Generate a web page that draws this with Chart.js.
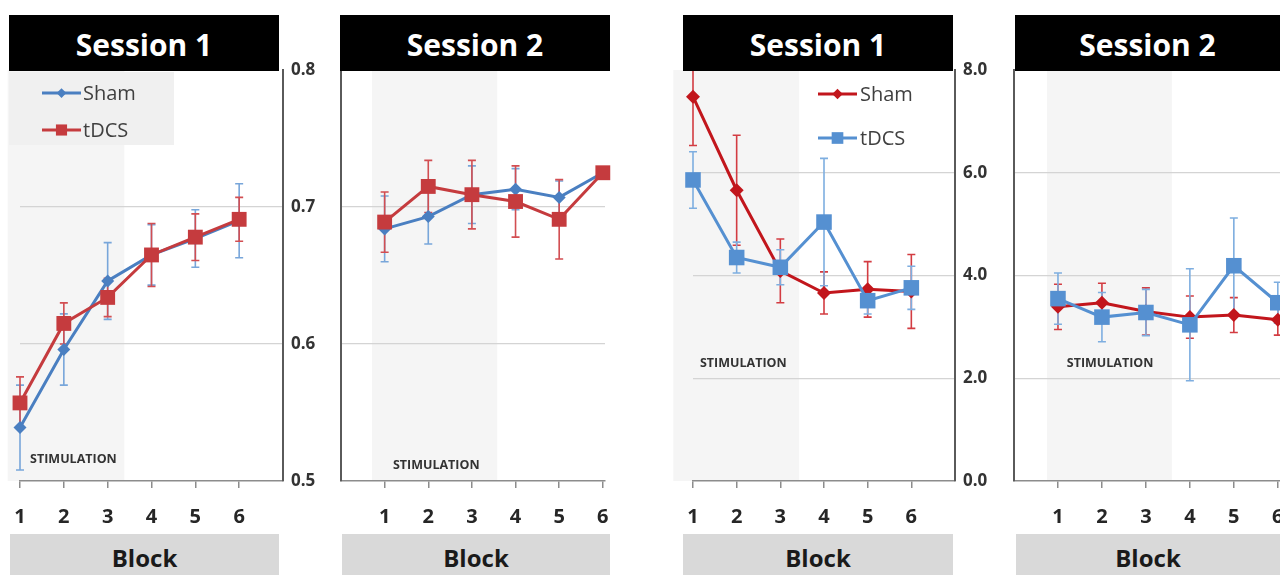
<!DOCTYPE html>
<html><head><meta charset="utf-8">
<script src="https://cdn.jsdelivr.net/npm/chart.js@4.4.1/dist/chart.umd.min.js"></script>
<style>
html,body{margin:0;padding:0;width:1280px;height:575px;overflow:hidden;background:#fff;font-family:"Open Sans",sans-serif;}
.pan{position:absolute;}
.title{position:absolute;background:#000;color:#fff;font-weight:700;font-size:30px;display:flex;align-items:center;justify-content:center;z-index:5;top:15px;height:56px;padding-top:2px;box-sizing:border-box;}
.block{position:absolute;background:#d9d9d9;color:#1a1a1a;font-weight:700;font-size:24px;display:flex;align-items:center;justify-content:center;top:534px;height:41px;padding-top:5px;box-sizing:border-box;z-index:5;}
</style></head><body>
<script>
// ---- data ----
const blocks = [1, 2, 3, 4, 5, 6];
const seriesNames = ['Sham', 'tDCS'];
const sessionTitles = ['Session 1', 'Session 2', 'Session 1', 'Session 2'];
const axisTitle = 'Block';
const stimLabel = 'STIMULATION';
const yTicksAcc = [0.5, 0.6, 0.7, 0.8];
const yTicksRT = [0, 2, 4, 6, 8];

const acc1Sham    = [0.539, 0.596, 0.646, 0.665, 0.677, 0.690];
const acc1ShamErr = [0.031, 0.026, 0.028, 0.022, 0.021, 0.027];
const acc1Tdcs    = [0.557, 0.615, 0.634, 0.665, 0.678, 0.691];
const acc1TdcsErr = [0.019, 0.015, 0.014, 0.023, 0.017, 0.016];

const acc2Sham    = [0.684, 0.693, 0.709, 0.713, 0.707, 0.725];
const acc2ShamErr = [0.024, 0.020, 0.021, 0.015, 0.012, 0];
const acc2Tdcs    = [0.689, 0.715, 0.709, 0.704, 0.691, 0.725];
const acc2TdcsErr = [0.022, 0.019, 0.025, 0.026, 0.029, 0];

const rt1Sham    = [7.48, 5.66, 4.09, 3.66, 3.73, 3.69];
const rt1ShamErr = [0.95, 1.07, 0.62, 0.41, 0.54, 0.72];
const rt1Tdcs    = [5.86, 4.35, 4.16, 5.04, 3.51, 3.76];
const rt1TdcsErr = [0.55, 0.30, 0.34, 1.24, 0.26, 0.42];

const rt2Sham    = [3.39, 3.47, 3.30, 3.19, 3.23, 3.14];
const rt2ShamErr = [0.44, 0.38, 0.46, 0.41, 0.34, 0.30];
const rt2Tdcs    = [3.55, 3.19, 3.28, 3.04, 4.19, 3.47];
const rt2TdcsErr = [0.50, 0.48, 0.45, 1.09, 0.93, 0.40];

// ---- styles ----
const BLUE_A = '#4a7fc1', BLUE_A_ERR = '#78a6da';
const RED_A = '#c53b3e', RED_A_ERR = '#d24e52';
const RED_B = '#c2161c', RED_B_ERR = '#d33c42';
const BLUE_B = '#5590d1', BLUE_B_ERR = '#7eaee0';

// ---- plugins ----
const shadePlugin = {
  id: 'shade',
  beforeDraw(chart, args, o) {
    const {ctx, chartArea, scales: {x}} = chart;
    ctx.save();
    ctx.fillStyle = o.color;
    const x0 = x.getPixelForValue(o.from), x1 = x.getPixelForValue(o.to);
    ctx.fillRect(x0, chartArea.top, x1 - x0, chartArea.bottom - chartArea.top);
    if (o.legendBg) {
      const b = o.legendBg;
      ctx.fillStyle = b.color;
      ctx.fillRect(b.x, b.y, b.w, b.h);
    }
    ctx.restore();
  }
};
const errorPlugin = {
  id: 'errbars',
  beforeDatasetsDraw(chart) {
    const {ctx, scales: {x, y}} = chart;
    ctx.save();
    ctx.lineWidth = 1.6;
    chart.data.datasets.forEach(ds => {
      if (!ds.errors) return;
      ctx.strokeStyle = ds.errorColor;
      ds.data.forEach((p, j) => {
        const e = ds.errors[j];
        if (!e) return;
        const px = x.getPixelForValue(p.x);
        const yt = y.getPixelForValue(p.y + e), yb = y.getPixelForValue(p.y - e);
        ctx.beginPath();
        ctx.moveTo(px, yt); ctx.lineTo(px, yb);
        ctx.moveTo(px - 4, yt); ctx.lineTo(px + 4, yt);
        ctx.moveTo(px - 4, yb); ctx.lineTo(px + 4, yb);
        ctx.stroke();
      });
    });
    ctx.restore();
  }
};
const stimPlugin = {
  id: 'stim',
  beforeDatasetsDraw(chart, args, o) {
    const {ctx, scales: {x, y}} = chart;
    ctx.save();
    ctx.font = '700 12.5px "Open Sans"';
    ctx.fillStyle = '#333';
    ctx.textBaseline = 'middle';
    ctx.textAlign = 'left';
    ctx.fillText(o.text, x.getPixelForValue(o.x), y.getPixelForValue(o.y));
    ctx.restore();
  }
};
const legendPlugin = {
  id: 'lgd',
  afterDraw(chart, args, o) {
    if (!o.items) return;
    const {ctx} = chart;
    ctx.save();
    o.items.forEach(it => {
      const ds = chart.data.datasets[it.ds];
      ctx.strokeStyle = ds.borderColor;
      ctx.lineWidth = 3;
      ctx.beginPath(); ctx.moveTo(o.x0, it.y); ctx.lineTo(o.x1, it.y); ctx.stroke();
      ctx.fillStyle = ds.pointBackgroundColor;
      Chart.helpers.drawPoint(ctx, {pointStyle: ds.pointStyle, radius: ds.pointRadius * 0.75, rotation: 0, borderWidth: 0}, (o.x0 + o.x1) / 2, it.y);
      ctx.fillStyle = '#404040';
      ctx.font = '400 20px "Open Sans"';
      ctx.textBaseline = 'middle';
      ctx.textAlign = 'left';
      ctx.fillText(ds.label, o.textX, it.y + 1);
    });
    ctx.restore();
  }
};

function mkPts(vals) { return blocks.map((b, i) => ({x: b, y: vals[i]})); }

function panel(p) {
  const div = document.createElement('div');
  div.className = 'pan';
  div.style.left = p.left + 'px'; div.style.top = p.top + 'px';
  const cv = document.createElement('canvas');
  cv.width = p.width; cv.height = p.height;
  cv.style.width = p.width + 'px'; cv.style.height = p.height + 'px';
  div.appendChild(cv);
  document.body.appendChild(div);
  const yMin = p.yTicks[0], yMax = p.yTicks[p.yTicks.length - 1];
  const isEdge = v => Math.abs(v - yMin) < 1e-9 || Math.abs(v - yMax) < 1e-9;
  new Chart(cv, {
    type: 'line',
    data: {datasets: p.datasets},
    options: {
      responsive: false, animation: false, devicePixelRatio: 1,
      layout: {padding: p.padding},
      plugins: {
        legend: {display: false}, tooltip: {enabled: false},
        shade: p.shade, stim: p.stim, lgd: p.legend || {}
      },
      scales: {
        x: {
          type: 'linear', min: p.xMin, max: p.xMax,
          afterBuildTicks: s => { s.ticks = blocks.map(v => ({value: v})); },
          afterFit: s => { s.height = p.xHeight; },
          grid: {drawOnChartArea: false, drawTicks: true, tickLength: 7, color: '#8c8c8c', lineWidth: 1.5},
          border: {display: true, color: '#8c8c8c', width: 1.5},
          ticks: {font: {family: 'Open Sans', weight: '700', size: 20}, color: '#262626', padding: 17, maxRotation: 0,
                  callback: v => String(v)}
        },
        y: {
          type: 'linear', position: p.yPos, min: yMin, max: yMax,
          afterBuildTicks: s => { s.ticks = p.yTicks.map(v => ({value: v})); },
          afterFit: s => { s.width = p.yWidth; },
          grid: {drawTicks: false, color: c => isEdge(c.tick.value) ? 'rgba(0,0,0,0)' : '#d4d4d4', lineWidth: 1.2},
          border: {display: true, color: '#5a5a5a', width: 2},
          ticks: {display: p.showY, font: {family: 'Open Sans', weight: '700', size: 17}, color: '#333', padding: 8,
                  callback: v => Number(v).toFixed(1)}
        }
      }
    },
    plugins: [shadePlugin, errorPlugin, stimPlugin, legendPlugin]
  });
}

function ds(label, vals, errs, color, errColor, style, radius, order) {
  return {label, data: mkPts(vals), errors: errs, errorColor: errColor,
    borderColor: color, backgroundColor: color, pointBackgroundColor: color, pointBorderColor: color,
    pointStyle: style, pointRadius: radius, pointBorderWidth: 0, borderWidth: 3, tension: 0, clip: false, order};
}

// Panel 1: accuracy, session 1 (canvas starts at page x = -10)
panel({left: -10, top: 40, width: 345, height: 500, padding: {left: 30, top: 30, right: 0, bottom: 0},
  xMin: 1, xMax: 7, xHeight: 59, yTicks: yTicksAcc, yPos: 'right', yWidth: 52, showY: true,
  datasets: [ds(seriesNames[0], acc1Sham, acc1ShamErr, BLUE_A, BLUE_A_ERR, 'rectRot', 6.5, 1),
             ds(seriesNames[1], acc1Tdcs, acc1TdcsErr, RED_A, RED_A_ERR, 'rect', 10.5, 0)],
  shade: {from: 0.72, to: 3.38, color: '#f5f5f5', legendBg: {x: 19, y: 32, w: 165, h: 73, color: '#f0f0f0'}},
  stim: {text: stimLabel, x: 1.23, y: 0.516},
  legend: {x0: 52, x1: 91, textX: 93, items: [{ds: 0, y: 53}, {ds: 1, y: 90}]}
});
// Panel 2: accuracy, session 2
panel({left: 325, top: 40, width: 305, height: 500, padding: {left: 0, top: 30, right: 25, bottom: 0},
  xMin: 0, xMax: 6.05, xHeight: 59, yTicks: yTicksAcc, yPos: 'left', yWidth: 16, showY: false,
  datasets: [ds(seriesNames[0], acc2Sham, acc2ShamErr, BLUE_A, BLUE_A_ERR, 'rectRot', 6.5, 1),
             ds(seriesNames[1], acc2Tdcs, acc2TdcsErr, RED_A, RED_A_ERR, 'rect', 10.5, 0)],
  shade: {from: 0.71, to: 3.58, color: '#f5f5f5'},
  stim: {text: stimLabel, x: 1.19, y: 0.511}
});
// Panel 3: RT, session 1
panel({left: 650, top: 40, width: 350, height: 500, padding: {left: 43, top: 30, right: 0, bottom: 0},
  xMin: 1, xMax: 7, xHeight: 59, yTicks: yTicksRT, yPos: 'right', yWidth: 45, showY: true,
  datasets: [ds(seriesNames[0], rt1Sham, rt1ShamErr, RED_B, RED_B_ERR, 'rectRot', 7, 1),
             ds(seriesNames[1], rt1Tdcs, rt1TdcsErr, BLUE_B, BLUE_B_ERR, 'rect', 11, 0)],
  shade: {from: 0.55, to: 3.43, color: '#f5f5f5'},
  stim: {text: stimLabel, x: 1.16, y: 2.29},
  legend: {x0: 168, x1: 207, textX: 210, items: [{ds: 0, y: 54}, {ds: 1, y: 98}]}
});
// Panel 4: RT, session 2 (canvas runs past the right page edge)
panel({left: 995, top: 40, width: 310, height: 500, padding: {left: 0, top: 30, right: 25, bottom: 0},
  xMin: 0, xMax: 6.05, xHeight: 59, yTicks: yTicksRT, yPos: 'left', yWidth: 19, showY: false,
  datasets: [ds(seriesNames[0], rt2Sham, rt2ShamErr, RED_B, RED_B_ERR, 'rectRot', 7, 1),
             ds(seriesNames[1], rt2Tdcs, rt2TdcsErr, BLUE_B, BLUE_B_ERR, 'rect', 11, 0)],
  shade: {from: 0.75, to: 3.59, color: '#f5f5f5'},
  stim: {text: stimLabel, x: 1.2, y: 2.29}
});

// titles and axis-title boxes
const titleBoxes = [[9, 270], [340, 270], [683, 270], [1015, 265]];
const blockBoxes = [[10, 269], [342, 268], [683, 270], [1016, 264]];
sessionTitles.forEach((t, i) => {
  const d = document.createElement('div');
  d.className = 'title'; d.textContent = t;
  d.style.left = titleBoxes[i][0] + 'px'; d.style.width = titleBoxes[i][1] + 'px';
  document.body.appendChild(d);
  const b = document.createElement('div');
  b.className = 'block'; b.textContent = axisTitle;
  b.style.left = blockBoxes[i][0] + 'px'; b.style.width = blockBoxes[i][1] + 'px';
  document.body.appendChild(b);
});
</script>
</body></html>
